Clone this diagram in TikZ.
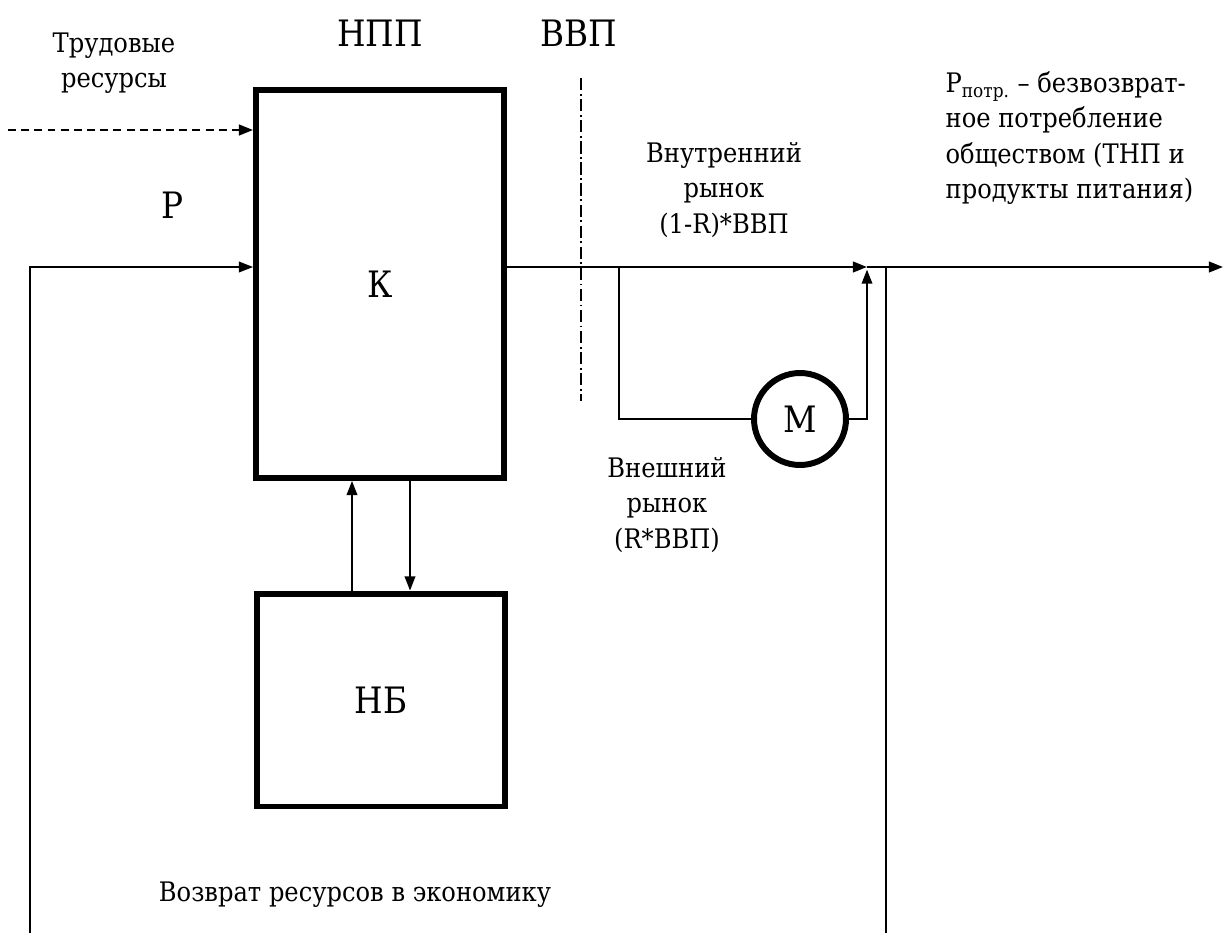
\documentclass[tikz,border=0pt]{standalone}
\usepackage{fontspec}
\setmainfont{DejaVu Serif}[Scale=0.9,FakeStretch=0.9]
\usetikzlibrary{arrows.meta}

\begin{document}
\begin{tikzpicture}[x=0.02cm,y=-0.02cm,
  body/.style={font=\fontsize{17}{20}\selectfont},
  big/.style={font=\fontsize{23}{26}\selectfont},
  block/.style={draw,line width=3.4pt,big,inner sep=0pt},
  flow/.style={line width=1pt,-{Triangle[length=8pt,width=6pt]}},
  link/.style={line width=1pt}]
\useasboundingbox (0,0) rectangle (1224,933);
\node[block,minimum width=4.96cm,minimum height=7.76cm] (K) at (380,284) {К};
\node[block,minimum width=4.96cm,minimum height=4.26cm] (NB) at (381,700) {НБ};
\node[block,circle,minimum size=1.84cm] (M) at (800,419) {М};
\node[big] (npp) at (380,33) {НПП};
\node[big] (vvp) at (579,33) {ВВП};
\node[big] (p) at (173,205) {Р};
\node[body,align=center] (trud) at (114,63) {Трудовые\\ресурсы};
\node[body,align=center] (inner) at (724,190) {Внутренний\\рынок\\(1-R)*ВВП};
\node[body,align=center] (outer) at (667,505) {Внешний\\рынок\\(R*ВВП)};
\node[body,align=left,anchor=west] (cons) at (940,138) {Р\textsubscript{потр.} – безвозврат-\\ное потребление\\обществом (ТНП и\\продукты питания)};
\node[body] (ret) at (355,895) {Возврат ресурсов в экономику};
\coordinate (lab) at (8,130);
\coordinate (bl) at (30,933);
\coordinate (br) at (886,933);
\coordinate (jn) at (867,267);
\coordinate (out) at (1223,267);
\coordinate (br1) at (619,267);
\coordinate (upx) at (352,0);
\coordinate (dnx) at (410,0);
\draw[flow,line width=1.4pt,dash pattern=on 4.5pt off 3pt] (lab) -- (lab -| K.west);
\draw[flow] (bl) |- (K.west |- jn);
\draw[flow,line width=1.3pt] (K.east |- jn) -- (jn);
\draw[flow,line width=1.3pt] (jn) -- (out);
\draw[link] (br) -- (br |- jn);
\draw[link] (br1) |- (M.west);
\draw[flow,shorten >=1.5pt] (M.east) -| (jn);
\draw[flow] (upx |- NB.north) -- (upx |- K.south);
\draw[flow] (dnx |- K.south) -- (dnx |- NB.north);
\draw[line width=0.8pt,dash pattern=on 7pt off 2pt on 1pt off 2pt] (581,78) -- (581,401);
\end{tikzpicture}
\end{document}
